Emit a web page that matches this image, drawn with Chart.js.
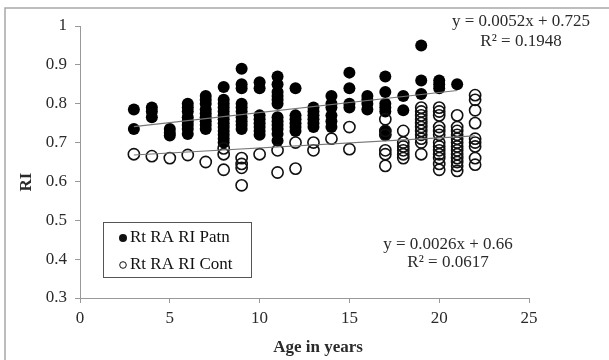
<!DOCTYPE html>
<html>
<head>
<meta charset="utf-8">
<script src="https://cdn.jsdelivr.net/npm/chart.js@4"></script>
<style>
html,body{margin:0;padding:0;background:#fff;}
#wrap{position:relative;width:609px;height:360px;}
</style>
</head>
<body>
<div id="wrap"><canvas id="c" width="609" height="360"></canvas></div>
<script>
// ---- Data ----
const patnAges = [3,3, 4,4,4, 5,5,5,
  6,6,6,6,6,6,6,6,
  7,7,7,7,7,7,7,7,7,
  8,8,8,8,8,8,8,8,8,8,8,8,8,
  9,9,9,9,9,9,9,9,9,9,
  10,10,10,10,10,10,10,10,
  11,11,11,11,11,11,11,11,11,11,11,11,
  12,12,12,12,12,12,
  13,13,13,13,13,13,
  14,14,14,14,14,14,
  15,15,15,15,
  16,16,16,16,
  17,17,17,17,17,17,17,
  18,18,
  19,19,19,
  20,20,20,
  21];
const patnRI = [0.785,0.735, 0.79,0.78,0.765, 0.735,0.725,0.718,
  0.80,0.79,0.78,0.765,0.755,0.745,0.735,0.722,
  0.82,0.81,0.80,0.785,0.775,0.765,0.755,0.745,0.735,
  0.843,0.81,0.80,0.79,0.78,0.77,0.76,0.75,0.74,0.73,0.72,0.71,0.70,
  0.89,0.85,0.84,0.80,0.79,0.78,0.765,0.755,0.745,0.735,
  0.855,0.84,0.77,0.76,0.75,0.74,0.73,0.72,
  0.87,0.85,0.83,0.82,0.81,0.80,0.765,0.755,0.745,0.735,0.722,0.705,
  0.84,0.77,0.76,0.75,0.74,0.73,
  0.79,0.78,0.77,0.76,0.75,0.74,
  0.82,0.80,0.79,0.77,0.755,0.74,
  0.88,0.84,0.80,0.79,
  0.82,0.81,0.80,0.785,
  0.87,0.83,0.80,0.79,0.78,0.73,0.72,
  0.82,0.783,
  0.95,0.86,0.825,
  0.86,0.85,0.84,
  0.85];
const contAges = [3,4,5,6,7,
  8,8,8,
  9,9,9,9,
  10,
  11,11,
  12,12,
  13,13,
  14,
  15,15,
  17,17,17,17,17,17,
  18,18,18,18,18,18,
  19,19,19,19,19,19,19,19,19,19,19,
  20,20,20,20,20,20,20,20,20,20,20,20,20,
  21,21,21,21,21,21,21,21,21,21,21,21,21,
  22,22,22,22,22,22,22,22,22];
const contRI = [0.67,0.665,0.66,0.668,0.65,
  0.685,0.67,0.63,
  0.66,0.645,0.635,0.59,
  0.67,
  0.68,0.623,
  0.70,0.633,
  0.70,0.68,
  0.71,
  0.74,0.683,
  0.76,0.73,0.72,0.68,0.67,0.64,
  0.73,0.70,0.69,0.68,0.67,0.66,
  0.79,0.78,0.77,0.76,0.75,0.74,0.73,0.72,0.71,0.70,0.67,
  0.79,0.78,0.77,0.74,0.73,0.72,0.70,0.69,0.68,0.67,0.66,0.645,0.63,
  0.77,0.74,0.73,0.72,0.71,0.70,0.69,0.68,0.67,0.66,0.65,0.64,0.627,
  0.822,0.81,0.783,0.75,0.71,0.70,0.69,0.66,0.643];
// Trendline endpoints (as drawn in the picture)
const trendPatnX = [3, 21];
const trendPatnY = [0.741, 0.834];
const trendContX = [3, 22];
const trendContY = [0.668, 0.717];
const seriesNames = ['Rt RA RI Patn', 'Rt RA RI Cont'];
const eqPatn = ['y = 0.0052x + 0.725', 'R\u00b2 = 0.1948'];
const eqCont = ['y = 0.0026x + 0.66', 'R\u00b2 = 0.0617'];
const axisTitles = ['Age in years', 'RI'];
const yTickLabels = ['0.3','0.4','0.5','0.6','0.7','0.8','0.9','1'];
const xTickLabels = ['0','5','10','15','20','25'];

const toPts = (xs, ys) => xs.map((x, i) => ({x: x, y: ys[i]}));
const SERIF = '"Liberation Serif", "Times New Roman", serif';
const TXT = '#2a2a2a';

const framePlugin = {
  id: 'frame',
  beforeDraw(chart) {
    const ctx = chart.ctx;
    ctx.save();
    ctx.fillStyle = '#fff';
    ctx.fillRect(0, 0, chart.width, chart.height);
    ctx.strokeStyle = '#a8a8a8';
    ctx.lineWidth = 1.5;
    ctx.strokeRect(5, 8, 640, 400);
    ctx.restore();
  },
  afterDraw(chart) {
    const ctx = chart.ctx;
    ctx.save();
    ctx.fillStyle = TXT;
    ctx.font = '17px ' + SERIF;
    ctx.textAlign = 'center';
    ctx.textBaseline = 'middle';
    ctx.fillText(eqPatn[0], 521, 22);
    ctx.fillText(eqPatn[1], 521, 42);
    ctx.fillText(eqCont[0], 448, 245);
    ctx.fillText(eqCont[1], 448, 263);
    // axis titles
    ctx.font = 'bold 17px ' + SERIF;
    ctx.textBaseline = 'alphabetic';
    ctx.fillText(axisTitles[0], 318, 352);
    ctx.save();
    ctx.translate(27, 182);
    ctx.rotate(-Math.PI / 2);
    ctx.textBaseline = 'middle';
    ctx.fillText(axisTitles[1], 0, 0);
    ctx.restore();
    // legend box
    ctx.strokeStyle = '#555';
    ctx.lineWidth = 1;
    ctx.strokeRect(103.5, 222.5, 148, 55);
    ctx.textAlign = 'left';
    ctx.textBaseline = 'middle';
    ctx.font = '17px ' + SERIF;
    ctx.fillStyle = '#111';
    ctx.beginPath(); ctx.arc(123, 238, 4, 0, Math.PI * 2); ctx.fill();
    ctx.fillText(seriesNames[0], 130, 238);
    ctx.beginPath(); ctx.arc(123, 265, 3.3, 0, Math.PI * 2);
    ctx.lineWidth = 1; ctx.strokeStyle = '#111'; ctx.stroke();
    ctx.fillText(seriesNames[1], 130, 265);
    ctx.restore();
  }
};

new Chart(document.getElementById('c'), {
  type: 'scatter',
  data: {
    datasets: [
      {label: seriesNames[0], data: toPts(patnAges, patnRI), pointRadius: 6, pointHoverRadius: 6,
       backgroundColor: '#000', borderColor: '#000', borderWidth: 0, order: 2},
      {label: seriesNames[1], data: toPts(contAges, contRI), pointRadius: 5.6, pointHoverRadius: 5.6,
       backgroundColor: 'rgba(255,255,255,0)', borderColor: '#111', borderWidth: 1.6, order: 1},
      {type: 'line', label: 'trendPatn', data: toPts(trendPatnX, trendPatnY), borderColor: '#777', borderWidth: 1.2,
       pointRadius: 0, fill: false, showLine: true, order: 0},
      {type: 'line', label: 'trendCont', data: toPts(trendContX, trendContY), borderColor: '#777', borderWidth: 1.2,
       pointRadius: 0, fill: false, showLine: true, order: 0}
    ]
  },
  options: {
    responsive: false,
    animation: false,
    layout: {padding: {left: 10, top: 26, right: 80, bottom: 4}},
    plugins: {legend: {display: false}, tooltip: {enabled: false}},
    scales: {
      x: {
        type: 'linear', min: 0, max: 25,
        afterFit(s) { s.height = 58; },
        ticks: {stepSize: 5, color: TXT, font: {family: SERIF, size: 17}, padding: 5,
                callback: (v, i) => xTickLabels[i]},
        grid: {drawOnChartArea: false, drawTicks: true, tickLength: 5, color: '#999'},
        border: {display: true, color: '#999', width: 1}
      },
      y: {
        min: 0.3, max: 1,
        afterFit(s) { s.width = 70; },
        ticks: {stepSize: 0.1, color: TXT, font: {family: SERIF, size: 17}, padding: 8,
                callback: (v, i) => yTickLabels[i]},
        grid: {drawOnChartArea: false, drawTicks: true, tickLength: 5, color: '#999'},
        border: {display: true, color: '#999', width: 1}
      }
    }
  },
  plugins: [framePlugin]
});
</script>
</body>
</html>
